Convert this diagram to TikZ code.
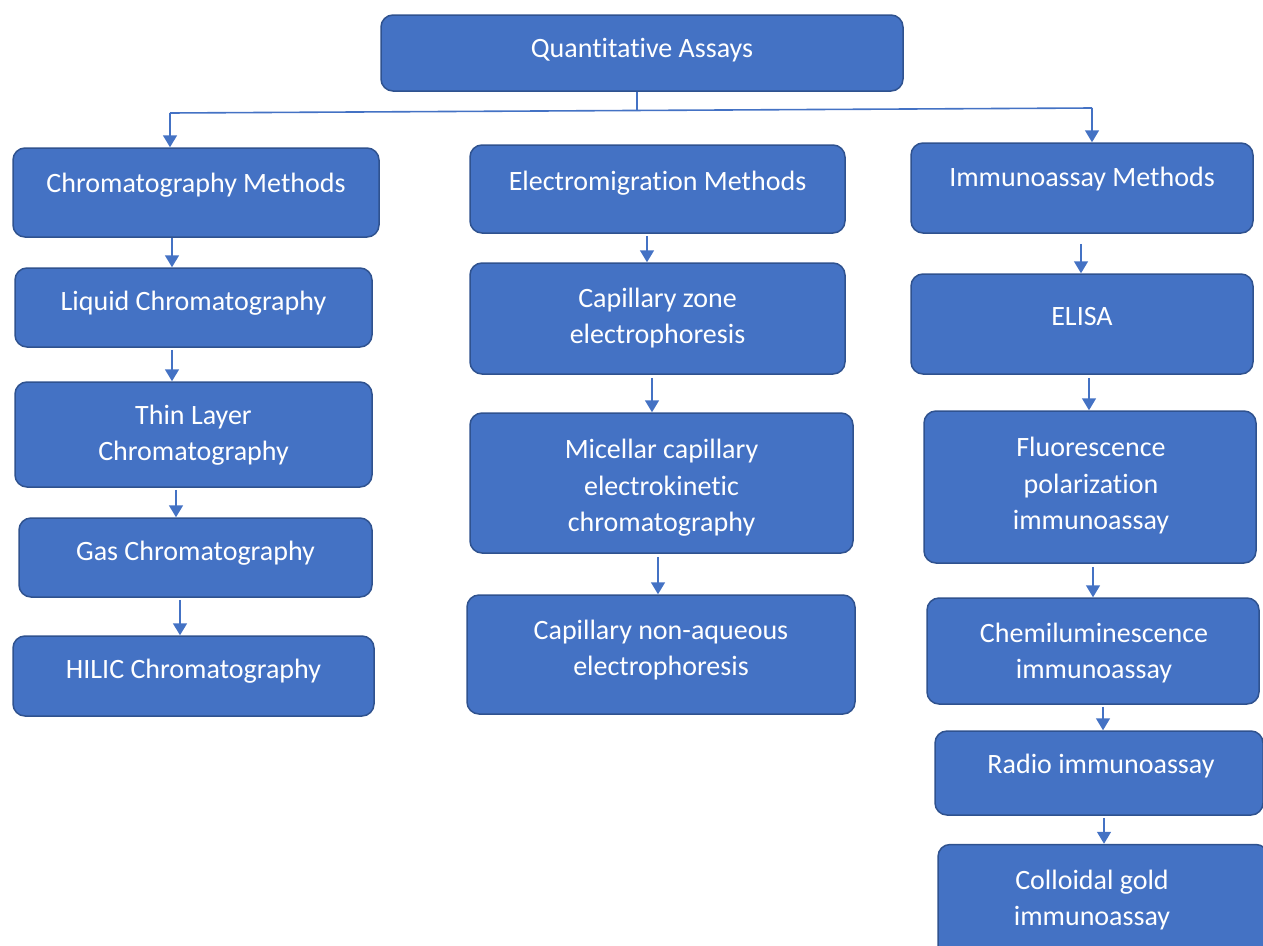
\documentclass[tikz,border=0pt]{standalone}
\usepackage{fontspec}
\setmainfont{Carlito}[Ligatures={NoCommon,NoContextual}]
\usetikzlibrary{arrows.meta}
\definecolor{boxfill}{HTML}{4472C4}
\definecolor{boxline}{HTML}{2F528F}
\definecolor{arrcol}{HTML}{4472C4}
\tikzset{
  box/.style={draw=boxline, fill=boxfill, line width=1.5pt, rounded corners=12pt, inner sep=0pt},
  txt/.style={text=white, align=center, inner sep=0pt, font=\fontsize{28}{36.5}\selectfont},
  conn/.style={draw=arrcol, line width=1.6pt},
  arr/.style={conn, -{Triangle[length=12pt,width=14pt]}},
}
\begin{document}
\begin{tikzpicture}[x=1pt,y=-1pt]
\useasboundingbox (0,0) rectangle (1263,945);
% boxes
\node[box, minimum width=522pt, minimum height=76pt] (Q) at (642,53) {};
\node[txt] (Qt) at (642,50) {Quantitative Assays};

\node[box, minimum width=366pt, minimum height=89pt] (C1) at (196,192.5) {};
\node[txt] (C1t) at (196,185) {Chromatography Methods};
\node[box, minimum width=357pt, minimum height=79pt] (C2) at (193.5,307.5) {};
\node[txt] (C2t) at (193.5,303) {Liquid Chromatography};
\node[box, minimum width=357pt, minimum height=105pt] (C3) at (193.5,434.5) {};
\node[txt] (C3t) at (193.5,435) {Thin Layer\\Chromatography};
\node[box, minimum width=353pt, minimum height=79pt] (C4) at (195.5,557.5) {};
\node[txt] (C4t) at (195.5,553) {Gas Chromatography};
\node[box, minimum width=361pt, minimum height=80pt] (C5) at (193.5,676) {};
\node[txt] (C5t) at (193.5,671) {HILIC Chromatography};

\node[box, minimum width=375pt, minimum height=88pt] (E1) at (657.5,189) {};
\node[txt] (E1t) at (657.5,183) {Electromigration Methods};
\node[box, minimum width=375pt, minimum height=111pt] (E2) at (657.5,318.5) {};
\node[txt] (E2t) at (657.5,318) {Capillary zone\\electrophoresis};
\node[box, minimum width=383pt, minimum height=140pt] (E3) at (661.5,483) {};
\node[txt] (E3t) at (661.5,488) {Micellar capillary\\electrokinetic\\chromatography};
\node[box, minimum width=388pt, minimum height=119pt] (E4) at (661,654.5) {};
\node[txt] (E4t) at (661,650) {Capillary non-aqueous\\electrophoresis};

\node[box, minimum width=342pt, minimum height=90pt] (I1) at (1082,188) {};
\node[txt] (I1t) at (1082,179) {Immunoassay Methods};
\node[box, minimum width=342pt, minimum height=100pt] (I2) at (1082,324) {};
\node[txt] (I2t) at (1082,317) {ELISA};
\node[box, minimum width=332pt, minimum height=152pt] (I3) at (1090,487) {};
\node[txt] (I3t) at (1091,486) {Fluorescence\\polarization\\immunoassay};
\node[box, minimum width=332pt, minimum height=106pt] (I4) at (1093,651) {};
\node[txt] (I4t) at (1094,653) {Chemiluminescence\\immunoassay};
\node[box, minimum width=328pt, minimum height=84pt] (I5) at (1099,773) {};
\node[txt] (I5t) at (1101,766) {Radio immunoassay};
\node[box, minimum width=330pt, minimum height=115pt] (I6) at (1103,902) {};
\node[txt] (I6t) at (1092,900) {Colloidal gold\\immunoassay};

% top connectors
\coordinate (qs) at ([xshift=-5pt]Q.south);
\coordinate (hm) at (qs |- 0,110);
\coordinate (hl) at (170,113);
\coordinate (hr) at (1092,108);
\draw[conn] (qs) -- (hm);
\draw[conn] (hl) -- (hr);
\draw[arr] (hl) -- (hl |- C1.north);
\draw[arr] (hr) -- (hr |- I1.north);

% left column
\coordinate (a1) at (172,0 |- C1.south);
\draw[arr] (a1) -- (a1 |- C2.north);
\coordinate (a2) at (172,0 |- C2.south);
\draw[arr] ([yshift=-2pt]a2) -- (a2 |- C3.north);
\coordinate (a3) at (176,0 |- C3.south);
\draw[arr] ([yshift=-2pt]a3) -- (a3 |- C4.north);
\coordinate (a4) at (180,0 |- C4.south);
\draw[arr] ([yshift=-2pt]a4) -- (a4 |- C5.north);

% middle column
\coordinate (b1) at (647,0 |- E1.south);
\draw[arr] ([yshift=-2pt]b1) -- (b1 |- E2.north);
\coordinate (b2) at (652,0 |- E2.south);
\draw[arr] ([yshift=-3pt]b2) -- (b2 |- E3.north);
\coordinate (b3) at (658,0 |- E3.south);
\draw[arr] ([yshift=-3pt]b3) -- (b3 |- E4.north);

% right column
\coordinate (c1) at (1081,0 |- I1.south);
\draw[arr] ([yshift=-10pt]c1) -- (c1 |- I2.north);
\coordinate (c2) at (1089,0 |- I2.south);
\draw[arr] ([yshift=-3pt]c2) -- (c2 |- I3.north);
\coordinate (c3) at (1093,0 |- I3.south);
\draw[arr] ([yshift=-3pt]c3) -- (c3 |- I4.north);
\coordinate (c4) at (1103,0 |- I4.south);
\draw[arr] ([yshift=-2pt]c4) -- (c4 |- I5.north);
\coordinate (c5) at (1104,0 |- I5.south);
\draw[arr] ([yshift=-2pt]c5) -- (c5 |- I6.north);
\end{tikzpicture}
\end{document}
